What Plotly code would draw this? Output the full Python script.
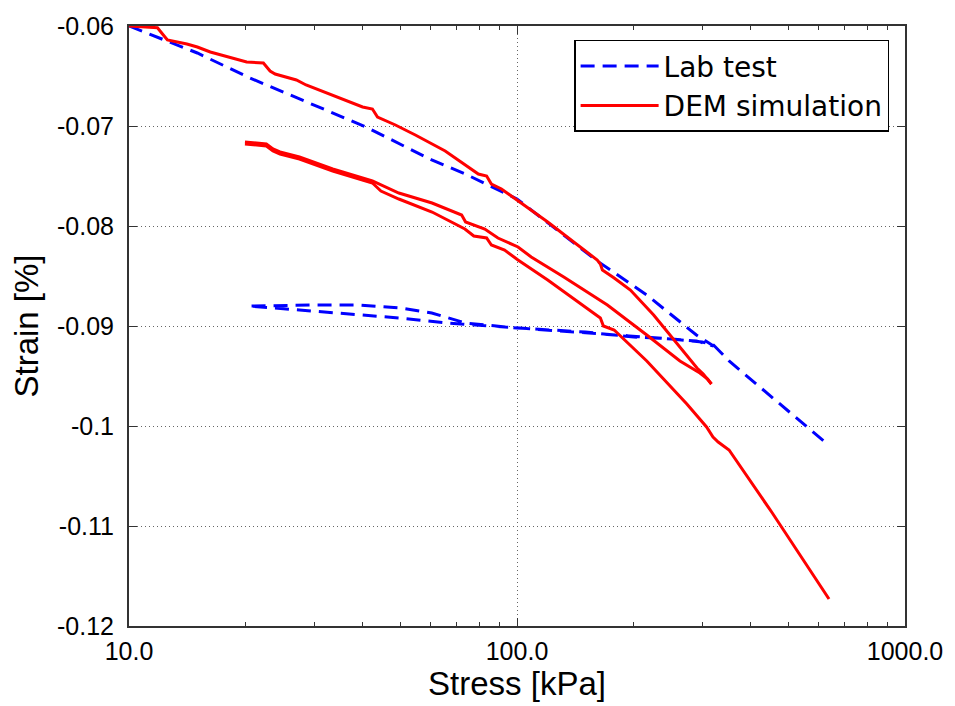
import plotly.graph_objects as go

# ---------------- data ----------------
# Lab test: loading 10->321 kPa, unloading to 20 kPa, reloading to 635 kPa
lab_stress = [10, 15, 20.5, 30, 40.8, 60.3, 73.6, 100, 120, 161, 216, 290, 321,
              290, 250, 200, 150, 100, 73.6, 60.3, 50, 39.2, 30.4, 20.3,
              27.5, 49.6, 66.5, 100, 150, 200, 250, 300, 321, 352, 431, 523, 635]
lab_strain = [-0.0600, -0.0627, -0.0652, -0.0679, -0.0701, -0.0734, -0.0748, -0.0773, -0.0797, -0.0835, -0.0869, -0.0909, -0.0920,
              -0.0915, -0.0913, -0.0911, -0.0906, -0.0902, -0.0897, -0.0887, -0.0882, -0.0879, -0.0879, -0.0880,
              -0.0884, -0.0892, -0.0897, -0.0902, -0.0907, -0.0911, -0.0913, -0.0916, -0.0919, -0.0935, -0.0964, -0.0991, -0.1019]

# DEM simulation: loading, unloading, reloading
dem_load_stress = [10, 11.84, 12.2, 12.56, 14.1, 15.0, 16.2, 18.6, 20.1, 22.2, 23.1, 23.8, 27.0, 28.6, 33.5,
                   40.0, 42.4, 43.7, 48.6, 54.7, 65.3, 79.5, 83.5, 85.9, 91.2, 100.6, 120, 140, 161, 164, 166,
                   178, 196, 225, 248, 269, 291, 302, 317]
dem_load_strain = [-0.0600, -0.06017, -0.0608, -0.0614, -0.0618, -0.0621, -0.0626, -0.0632, -0.0636, -0.0637, -0.0645, -0.0648, -0.0654, -0.0659, -0.0669,
                   -0.0681, -0.0683, -0.0691, -0.0699, -0.0709, -0.0725, -0.0748, -0.0750, -0.0758, -0.0763, -0.0775, -0.0796, -0.0816, -0.0834, -0.0838, -0.0844,
                   -0.0852, -0.0864, -0.0889, -0.0909, -0.0925, -0.0942, -0.0948, -0.0958]
dem_unload_stress = [317, 310, 296, 263, 216, 171, 132, 108.8, 100.6, 89.3, 82.6, 73.7, 72, 60.4, 49.6,
                     42.4, 33.5, 27.5, 24.5, 23.5, 22.6, 19.9]
dem_unload_strain = [-0.0958, -0.0953, -0.0947, -0.0935, -0.0909, -0.0879, -0.0851, -0.0831, -0.0821, -0.0812, -0.0803, -0.0796, -0.0789, -0.0777, -0.0767,
                     -0.0755, -0.0743, -0.0731, -0.0726, -0.0723, -0.0718, -0.0716]
dem_reload_stress = [19.9, 22.6, 23.5, 24.5, 27.5, 33.5, 42.4, 44.6, 49.6, 60.4, 73.4, 77.4, 83.5, 85.9, 92.9,
                     100.6, 120, 161, 164, 167, 178, 216, 274, 308, 320, 330, 352, 455, 637]
dem_reload_strain = [-0.0718, -0.0720, -0.0725, -0.0728, -0.0733, -0.0745, -0.0757, -0.0765, -0.0773, -0.0786, -0.0803, -0.0810, -0.0812, -0.0819, -0.0824,
                     -0.0834, -0.0854, -0.0890, -0.0892, -0.0900, -0.0904, -0.0935, -0.0978, -0.1001, -0.1011, -0.1016, -0.1024, -0.1087, -0.1173]

x_tickvals = [10, 100, 1000]
x_ticktext = ["10.0", "100.0", "1000.0"]
y_tickvals = [-0.06, -0.07, -0.08, -0.09, -0.10, -0.11, -0.12]
y_ticktext = ["-0.06", "-0.07", "-0.08", "-0.09", "-0.1", "-0.11", "-0.12"]

# ---------------- figure ----------------
dem_stress = dem_load_stress + [None] + dem_unload_stress + [None] + dem_reload_stress
dem_strain = dem_load_strain + [None] + dem_unload_strain + [None] + dem_reload_strain

fig = go.Figure()
fig.add_trace(go.Scatter(x=lab_stress, y=lab_strain, mode="lines", name="Lab test",
                         line=dict(color="#0000ff", width=3, dash="14px,8px")))
fig.add_trace(go.Scatter(x=dem_stress, y=dem_strain, mode="lines", name="DEM simulation",
                         connectgaps=False,
                         line=dict(color="#ff0000", width=3)))

tick_font = dict(family="Liberation Sans, Arial, sans-serif", size=25, color="black")
title_font = dict(family="Liberation Sans, Arial, sans-serif", size=33, color="black")

fig.update_layout(
    width=955, height=706,
    margin=dict(l=129, r=45, t=25, b=74),
    paper_bgcolor="white", plot_bgcolor="white",
    showlegend=True,
    legend=dict(x=0.5736, y=0.977, xanchor="left", yanchor="top",
                bordercolor="black", borderwidth=1.5, bgcolor="white",
                font=dict(family="DejaVu Sans", size=28, color="black"),
                itemwidth=78),
)
fig.update_xaxes(
    type="log", range=[1, 3],
    tickvals=x_tickvals, ticktext=x_ticktext,
    ticks="inside", ticklen=8, tickwidth=1, tickcolor="#333",
    mirror="allticks", showline=True, linecolor="#333", linewidth=2,
    showgrid=True, gridcolor="#666", gridwidth=1, griddash="1px,3px",
    minor=dict(tickvals=[v * d for d in (10, 100) for v in range(2, 10)],
               ticks="inside", ticklen=4, tickcolor="#333", showgrid=False),
    tickfont=tick_font, zeroline=False, ticklabelstandoff=2,
    title=dict(text="Stress [kPa]", font=title_font, standoff=6),
)
fig.update_yaxes(
    range=[-0.12, -0.06],
    tickvals=y_tickvals, ticktext=y_ticktext,
    ticks="inside", ticklen=8, tickwidth=1, tickcolor="#333",
    mirror="allticks", showline=True, linecolor="#333", linewidth=2,
    showgrid=True, gridcolor="#666", gridwidth=1, griddash="1px,3px",
    tickfont=tick_font, zeroline=False, ticklabelstandoff=8,
    title=dict(text="Strain [%]", font=title_font, standoff=8),
)

fig.write_html("out.html")
